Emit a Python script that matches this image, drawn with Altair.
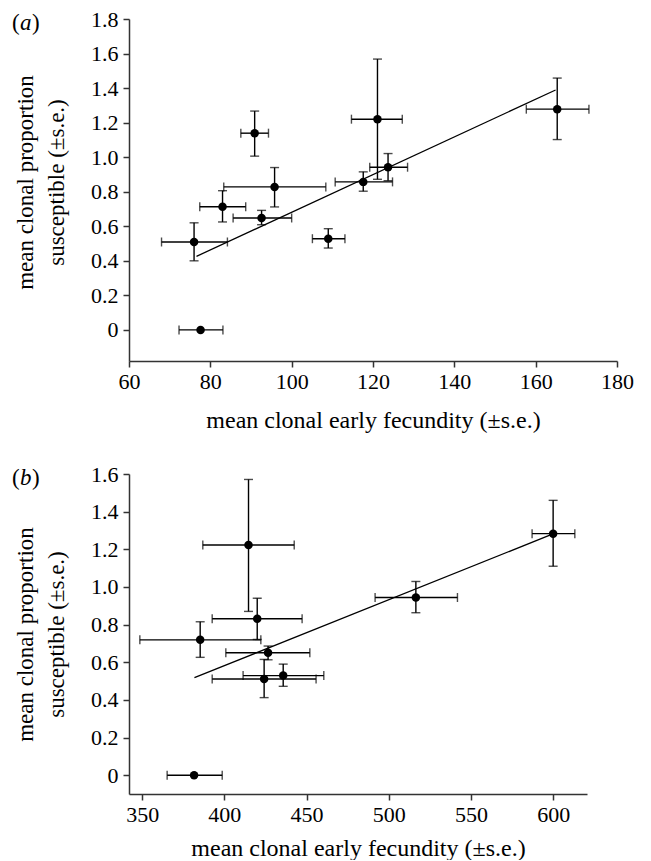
import altair as alt
import pandas as pd
import numpy as np

FONT = "Liberation Serif"

# ---- panel (a) data ----
a_x = [77.6, 76.0, 83.0, 92.6, 90.9, 95.8, 109.0, 121.1, 117.6, 123.7, 165.3]
a_y = [0.0, 0.509, 0.713, 0.648, 1.139, 0.828, 0.528, 1.220, 0.857, 0.942, 1.278]
a_x_lo = [72.3, 68.0, 77.4, 85.6, 87.5, 83.3, 105.1, 114.7, 110.7, 119.2, 157.7]
a_x_hi = [83.1, 84.2, 88.7, 100.0, 94.3, 108.4, 113.1, 127.2, 124.8, 128.5, 173.1]
a_y_lo = [np.nan, 0.400, 0.625, 0.609, 1.006, 0.712, 0.474, 0.872, 0.803, 0.864, 1.102]
a_y_hi = [np.nan, 0.620, 0.806, 0.692, 1.267, 0.940, 0.586, 1.568, 0.915, 1.021, 1.458]
a_fit_x = [76.6, 164.9]
a_fit_y = [0.426, 1.389]
a_xticks = [60, 80, 100, 120, 140, 160, 180]
a_yticks = [0, 0.2, 0.4, 0.6, 0.8, 1.0, 1.2, 1.4, 1.6, 1.8]

# ---- panel (b) data ----
b_x = [381.6, 385.3, 414.7, 420.0, 426.6, 424.2, 435.8, 516.5, 600.0]
b_y = [0.0, 0.719, 1.223, 0.831, 0.650, 0.511, 0.529, 0.944, 1.283]
b_x_lo = [365.2, 348.6, 386.9, 392.6, 400.9, 392.6, 411.4, 491.7, 587.2]
b_x_hi = [398.7, 422.2, 442.5, 447.3, 452.0, 455.8, 460.5, 541.8, 613.2]
b_y_lo = [np.nan, 0.626, 0.870, 0.721, 0.613, 0.412, 0.472, 0.863, 1.110]
b_y_hi = [np.nan, 0.815, 1.571, 0.940, 0.686, 0.615, 0.590, 1.029, 1.460]
b_fit_x = [381.8, 598.0]
b_fit_y = [0.518, 1.275]
b_xticks = [350, 400, 450, 500, 550, 600]
b_yticks = [0, 0.2, 0.4, 0.6, 0.8, 1.0, 1.2, 1.4, 1.6]

x_title = "mean clonal early fecundity (±s.e.)"
y_title = ["mean clonal proportion", "susceptible (±s.e.)"]

LW = 1.4
CAP = 9


def panel(xs, ys, xlo, xhi, ylo, yhi, fx, fy, xdom, ydom, xticks, yticks,
          letter, width, height, ytitle_y, xtitle_pad):
    df = pd.DataFrame({"x": xs, "y": ys, "xlo": xlo, "xhi": xhi,
                       "ylo": ylo, "yhi": yhi})
    fit = pd.DataFrame({"x": fx, "y": fy})
    xs_ = alt.Scale(domain=xdom, nice=False, zero=False)
    ys_ = alt.Scale(domain=ydom, nice=False, zero=False)
    xax = alt.Axis(values=xticks, title=x_title, format="d",
                   titlePadding=xtitle_pad, labelOverlap=False,
                   labelFlush=False, labelBound=False)
    yax = alt.Axis(values=yticks, title=y_title,
                   labelExpr="datum.value == 0 ? '0' : format(datum.value, '.1f')",
                   titleY=ytitle_y, labelOverlap=False, labelFlush=False,
                   labelBound=False)

    def X(f):
        return alt.X(f, type="quantitative", scale=xs_, axis=xax)

    def Y(f):
        return alt.Y(f, type="quantitative", scale=ys_, axis=yax)

    base = alt.Chart(df)
    xerr = base.mark_rule(color="black", strokeWidth=LW).encode(
        x=X("xlo"), x2="xhi:Q", y=Y("y"))
    yerr = base.transform_filter("isValid(datum.ylo)").mark_rule(
        color="black", strokeWidth=LW).encode(
        x=X("x"), y=Y("ylo"), y2="yhi:Q")
    xcap_lo = base.mark_tick(orient="vertical", color="black", size=CAP,
                             thickness=LW).encode(x=X("xlo"), y=Y("y"))
    xcap_hi = base.mark_tick(orient="vertical", color="black", size=CAP,
                             thickness=LW).encode(x=X("xhi"), y=Y("y"))
    ycap_lo = base.transform_filter("isValid(datum.ylo)").mark_tick(
        orient="horizontal", color="black", size=CAP, thickness=LW).encode(
        x=X("x"), y=Y("ylo"))
    ycap_hi = base.transform_filter("isValid(datum.ylo)").mark_tick(
        orient="horizontal", color="black", size=CAP, thickness=LW).encode(
        x=X("x"), y=Y("yhi"))
    pts = base.mark_point(filled=True, shape="circle", color="black",
                          size=72, opacity=1).encode(x=X("x"), y=Y("y"))
    line = alt.Chart(fit).mark_line(color="black", strokeWidth=1.3).encode(
        x=X("x"), y=Y("y"))
    lab_df = pd.DataFrame({"t": ["(", letter, ")"]})
    lp = alt.Chart(lab_df).transform_filter("datum.t == '('").mark_text(
        font=FONT, fontSize=23, align="left", baseline="middle").encode(
        text="t:N", x=alt.value(-117), y=alt.value(4))
    lm = alt.Chart(lab_df).transform_filter(f"datum.t == '{letter}'").mark_text(
        font=FONT, fontSize=23, fontStyle="italic", align="left",
        baseline="middle").encode(text="t:N", x=alt.value(-109), y=alt.value(4))
    lc = alt.Chart(lab_df).transform_filter("datum.t == ')'").mark_text(
        font=FONT, fontSize=23, align="left", baseline="middle").encode(
        text="t:N", x=alt.value(-97), y=alt.value(4))
    return alt.layer(xerr, yerr, xcap_lo, xcap_hi, ycap_lo, ycap_hi, line,
                     pts, lp, lm, lc).properties(width=width, height=height)


pa = panel(a_x, a_y, a_x_lo, a_x_hi, a_y_lo, a_y_hi, a_fit_x, a_fit_y,
           [60, 180], [-0.18, 1.8], a_xticks, a_yticks, "a", 488, 342, 163, 16)
pb = panel(b_x, b_y, b_x_lo, b_x_hi, b_y_lo, b_y_hi, b_fit_x, b_fit_y,
           [342, 620.6], [-0.1, 1.6], b_xticks, b_yticks, "b", 458, 320, 160, 11)

chart = alt.vconcat(pa, pb, spacing=31).properties(
    padding={"left": 4, "top": 0, "right": 0, "bottom": 0}
).configure_view(stroke=None).configure_axis(
    grid=False, domainColor="#333333", domainWidth=1.5, tickColor="#333333",
    tickWidth=1.5, tickSize=6, labelFont=FONT, labelFontSize=22,
    labelColor="black", titleFont=FONT, titleFontSize=24,
    titleFontWeight="normal", titleColor="black", labelPadding=4
).configure_axisY(titleLineHeight=31, labelPadding=5, titlePadding=22,
                  titleFontSize=23)

chart.save("out.html", embed_options={"renderer": "svg", "actions": False})
